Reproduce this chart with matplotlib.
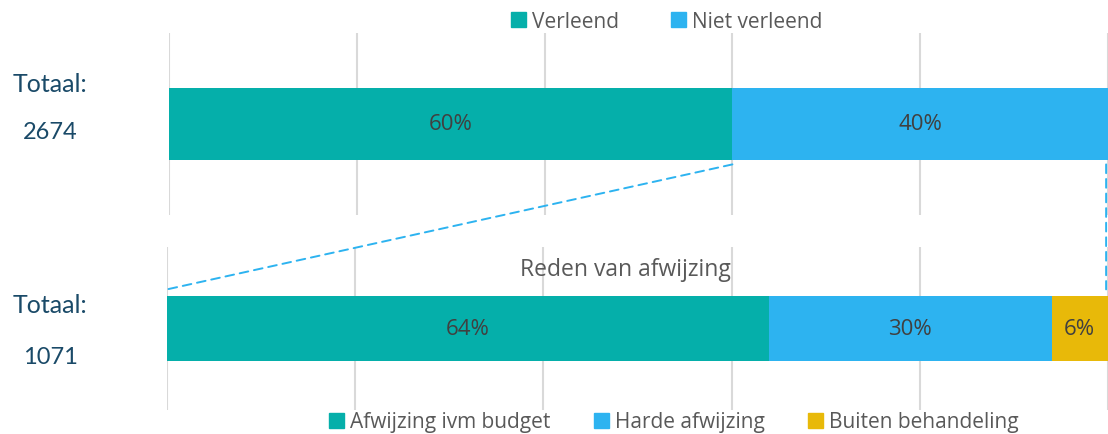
import matplotlib
matplotlib.use('Agg')
import matplotlib.pyplot as plt
from matplotlib.patches import Patch, ConnectionPatch

# data
top_labels = ['Verleend', 'Niet verleend']
top_values = [60, 40]
top_total = '2674'

bottom_labels = ['Afwijzing ivm budget', 'Harde afwijzing', 'Buiten behandeling']
bottom_values = [64, 30, 6]
bottom_total = '1071'
bottom_title = 'Reden van afwijzing'

teal = '#05afaa'
blue = '#2db3f0'
gold = '#e8b909'
top_colors = [teal, blue]
bottom_colors = [teal, blue, gold]

plt.rcParams['font.family'] = ['Open Sans', 'DejaVu Sans']

fig = plt.figure(figsize=(11.08, 4.35), dpi=100)
W, H = 1108, 435

ax1 = fig.add_axes([169 / W, 1 - 216 / H, 939 / W, 182 / H])
ax2 = fig.add_axes([167 / W, 1 - 411 / H, 941 / W, 163 / H])


def stacked(ax, values, colors):
    left = 0
    for v, c in zip(values, colors):
        bars = ax.barh(0, v, left=left, height=0.4, color=c, zorder=2)
        ax.bar_label(bars, labels=[f'{v}%'], label_type='center',
                     fontsize=16, color='#404040')
        left += v
    ax.set_xlim(0, 100)
    ax.set_ylim(-0.5, 0.5)
    ax.set_xticks(range(0, 101, 20))
    ax.set_yticks([])
    ax.grid(axis='x', color='#d9d9d9', linewidth=1.5, zorder=0)
    ax.tick_params(axis='x', length=0, labelbottom=False)
    for s in ax.spines.values():
        s.set_visible(False)


stacked(ax1, top_values, top_colors)
stacked(ax2, bottom_values, bottom_colors)

ax2.text(0.487, 0.865, bottom_title, transform=ax2.transAxes, ha='center',
         va='center', fontsize=16.5, color='#595959')

# dashed connectors from the "niet verleend" part to the bottom bar
dash = dict(color=blue, linewidth=1.4, linestyle=(0, (4.5, 3)))
fig.add_artist(ConnectionPatch(xyA=(top_values[0], -0.222), coordsA=ax1.transData,
                               xyB=(0, 0.24), coordsB=ax2.transData, **dash))
fig.add_artist(ConnectionPatch(xyA=(99.8, -0.222), coordsA=ax1.transData,
                               xyB=(99.8, 0.24), coordsB=ax2.transData, **dash))

# totals on the left
navy = '#1a4a68'
fig.text(50 / W, 1 - 92 / H, 'Totaal:', ha='center', va='baseline',
         fontsize=18, color=navy, family=['Lato', 'DejaVu Sans'])
fig.text(50 / W, 1 - 139 / H, top_total, ha='center', va='baseline',
         fontsize=17, color=navy, family=['Lato', 'DejaVu Sans'])
fig.text(50 / W, 1 - 313 / H, 'Totaal:', ha='center', va='baseline',
         fontsize=18, color=navy, family=['Lato', 'DejaVu Sans'])
fig.text(50 / W, 1 - 364 / H, bottom_total, ha='center', va='baseline',
         fontsize=17, color=navy, family=['Lato', 'DejaVu Sans'])

# legends
leg_kw = dict(frameon=False, fontsize=15, handlelength=0.7, handleheight=0.7,
              handletextpad=0.3, labelcolor='#595959', borderaxespad=0,
              borderpad=0)
fig.legend(handles=[Patch(color=c, label=l) for l, c in zip(top_labels, top_colors)],
           ncol=2, loc='center', bbox_to_anchor=(667 / W, 1 - 22 / H),
           columnspacing=2.5, **leg_kw)
fig.legend(handles=[Patch(color=c, label=l) for l, c in zip(bottom_labels, bottom_colors)],
           ncol=3, loc='center', bbox_to_anchor=(674 / W, 1 - 423 / H),
           columnspacing=2.1, **leg_kw)

fig.savefig('out.png', dpi=100)
